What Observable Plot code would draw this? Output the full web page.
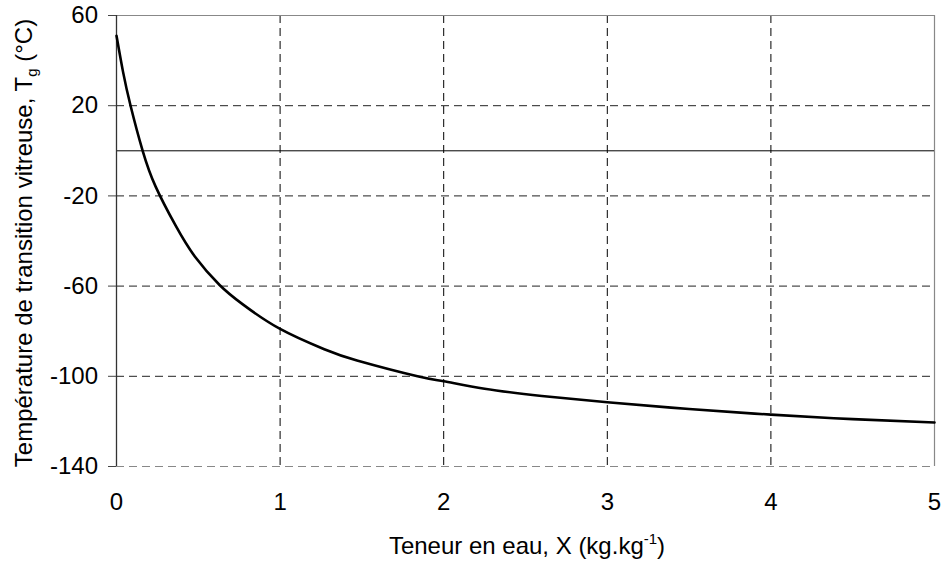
<!DOCTYPE html>
<html>
<head>
<meta charset="utf-8">
<script src="https://cdn.jsdelivr.net/npm/d3@7"></script>
<script src="https://cdn.jsdelivr.net/npm/@observablehq/plot@0.6"></script>
<style>
  html, body { margin: 0; padding: 0; background: #fff; }
  #chart { width: 944px; height: 563px; }
</style>
</head>
<body>
<div id="chart"></div>
<script>
// Water content X (kg/kg) and glass transition temperature Tg (°C)
const waterContent = [0, 0.04, 0.086, 0.16, 0.24, 0.36, 0.48, 0.63, 0.77, 1.0, 1.27, 1.47, 1.84, 2.0, 2.25, 2.6, 3.0, 3.5, 4.0, 4.5, 5.0];
const glassTemp = [51, 35, 20, 0, -16, -33, -47, -59.5, -68, -79, -88, -93, -100, -102.2, -105.5, -108.7, -111.5, -114.5, -117, -119, -120.5];
const xTicks = [0, 1, 2, 3, 4, 5];
const yTicks = [60, 20, -20, -60, -100, -140];
const xInnerGrid = [1, 2, 3, 4];
const yInnerGrid = [20, -20, -60, -100];

const data = waterContent.map((x, i) => ({x, t: glassTemp[i]}));
const font = "'Liberation Sans', Arial, sans-serif";

const plot = Plot.plot({
  width: 944,
  height: 563,
  marginLeft: 116,
  marginRight: 10,
  marginTop: 15,
  marginBottom: 97,
  style: {fontFamily: font, fontSize: "24px", background: "#fff", color: "#000"},
  x: {type: "linear", domain: [0, 5]},
  y: {type: "linear", domain: [-140, 60]},
  marks: [
    // dashed grid
    Plot.ruleX(xInnerGrid, {stroke: "#000", strokeWidth: 1, strokeDasharray: "8,5"}),
    Plot.ruleY(yInnerGrid, {stroke: "#222", strokeWidth: 1, strokeDasharray: "8,5"}),
    Plot.ruleY([-140], {stroke: "#888", strokeWidth: 1.2, strokeDasharray: "8,5"}),
    // frame top and right
    Plot.ruleY([60], {stroke: "#888", strokeWidth: 1.2}),
    Plot.ruleX([5], {stroke: "#888", strokeWidth: 1.2}),
    // zero line
    Plot.ruleY([0], {stroke: "#000", strokeWidth: 1}),
    // left axis line
    Plot.ruleX([0], {stroke: "#333", strokeWidth: 1.3}),
    // y tick marks only (labels drawn as text marks)
    Plot.axisY({ticks: yTicks, tickSize: 8, tickFormat: () => "", label: null, stroke: "#444"}),
    Plot.axisX({ticks: [], label: null}),
    // tick labels
    Plot.text(yTicks, {x: () => 0, y: d => d, text: d => String(d), dx: -18.5, textAnchor: "end",
                       fontSize: 24, fill: "#000", fontFamily: font}),
    Plot.text(xTicks, {x: d => d, y: () => -140, text: d => String(d), dy: 36,
                       fontSize: 24, fill: "#000", fontFamily: font}),
    Plot.line(data, {x: "x", y: "t", stroke: "#000", strokeWidth: 2.6, curve: "natural"})
  ]
});

const svg = d3.select(plot);
// force tick label size
svg.selectAll("text").style("font-size", "24px").style("font-family", font);

// x axis title
const xt = svg.append("text")
  .attr("x", 527).attr("y", 554)
  .attr("text-anchor", "middle")
  .attr("font-family", font).attr("font-size", 24).attr("fill", "#000");
xt.append("tspan").text("Teneur en eau, X (kg.kg");
xt.append("tspan").attr("font-size", 15).attr("dy", -10).text("-1");
xt.append("tspan").attr("dy", 10).text(")");

// y axis title
const yt = svg.append("text")
  .attr("transform", "translate(32,243) rotate(-90)")
  .attr("text-anchor", "middle")
  .attr("font-family", font).attr("font-size", 24).attr("fill", "#000");
yt.append("tspan").text("Température de transition vitreuse, T");
yt.append("tspan").attr("font-size", 15).attr("dy", 5).text("g");
yt.append("tspan").attr("dy", -5).text(" (°C)");

document.getElementById("chart").appendChild(plot);
</script>
</body>
</html>
